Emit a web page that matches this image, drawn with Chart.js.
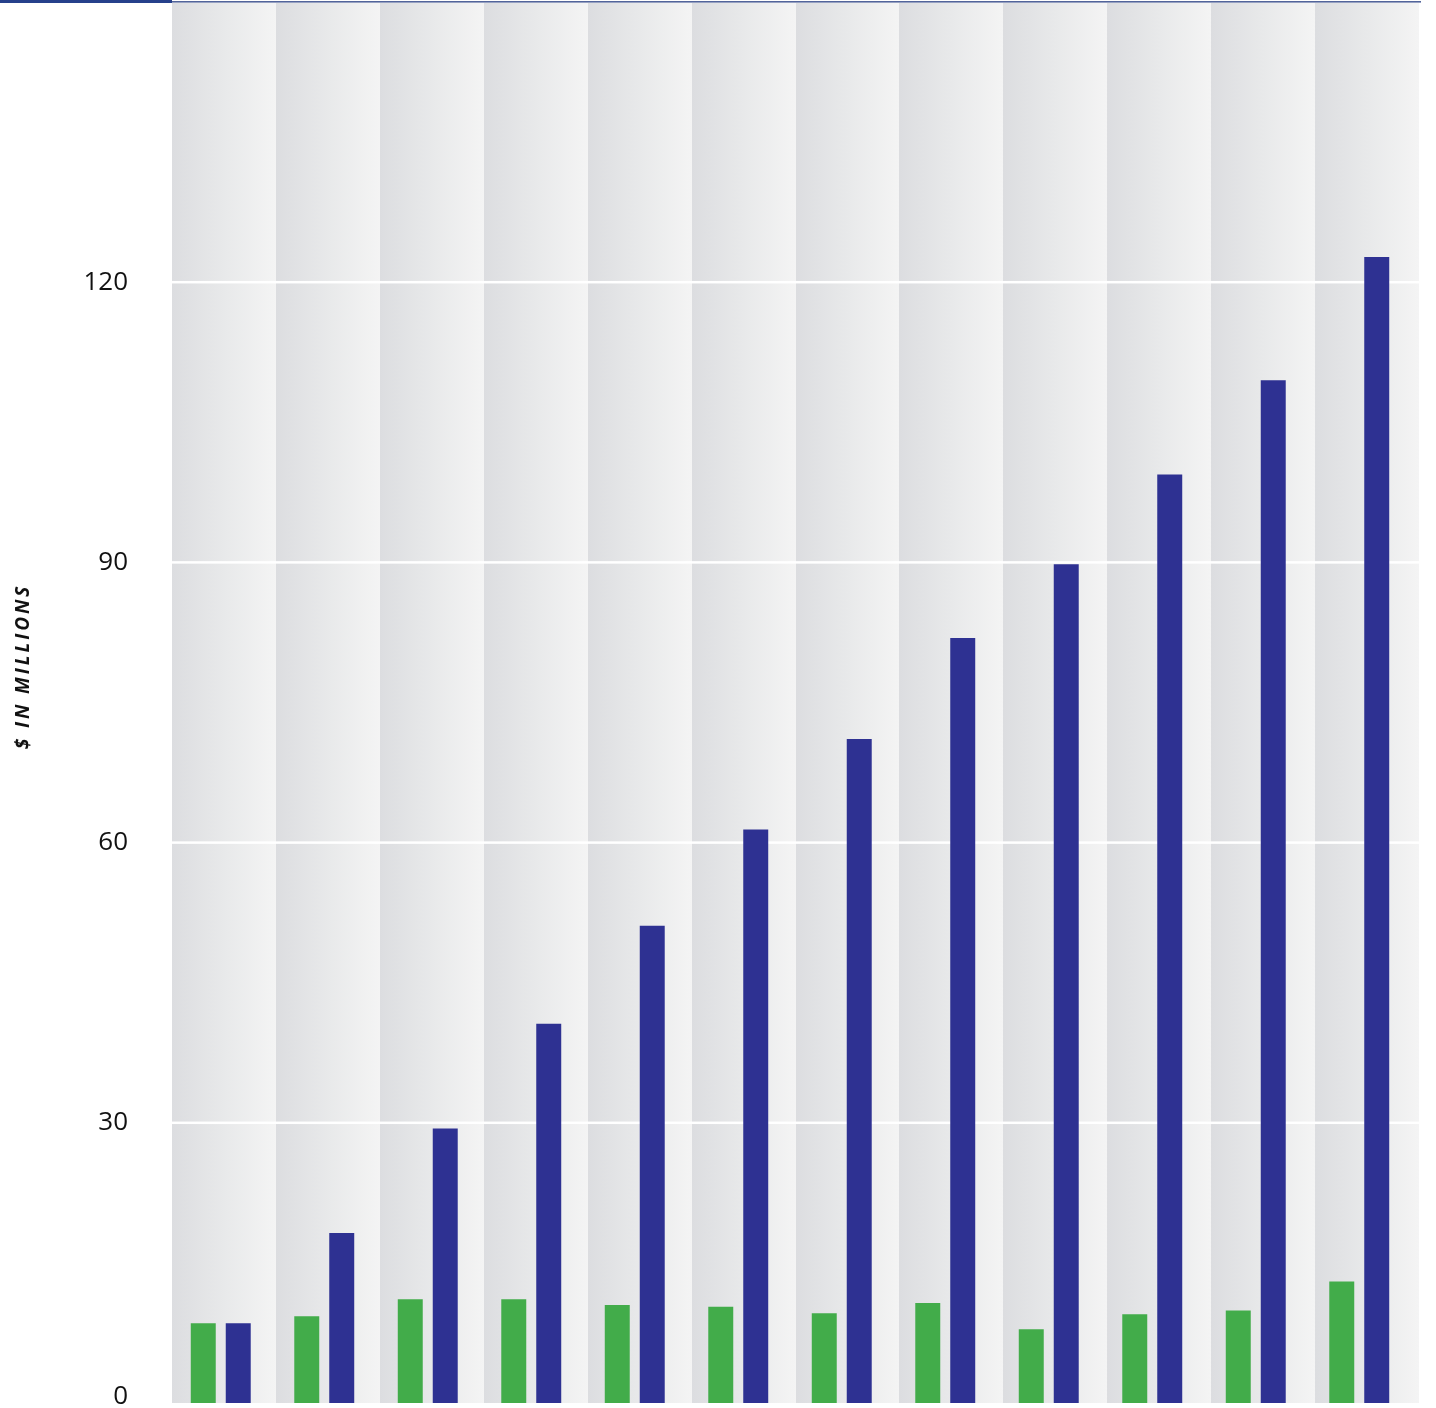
<!DOCTYPE html>
<html>
<head>
<meta charset="utf-8">
<title>$ in millions</title>
<script src="https://cdn.jsdelivr.net/npm/chart.js@4.4.1/dist/chart.umd.min.js"></script>
<style>
  html, body { margin: 0; padding: 0; background: #ffffff; }
  #wrap { width: 1436px; height: 1408px; }
</style>
</head>
<body>
<div id="wrap"><canvas id="chart" width="1436" height="1408"></canvas></div>
<script>
// Periods along the x axis (not labelled on the chart)
const periods = ['P1', 'P2', 'P3', 'P4', 'P5', 'P6', 'P7', 'P8', 'P9', 'P10', 'P11', 'P12'];

// Yearly amount, $ millions
const annualValues = [8.55, 9.3, 11.1, 11.1, 10.5, 10.3, 9.6, 10.7, 7.9, 9.5, 9.9, 13.0];

// Running total, $ millions
const cumulativeValues = [8.55, 18.2, 29.4, 40.6, 51.1, 61.4, 71.1, 81.9, 89.8, 99.4, 109.5, 122.7];

// Value axis ticks
const yTicks = [0, 30, 60, 90, 120, 150];

const axisTitle = '$ IN MILLIONS';

const GREEN = '#42ac4a';
const NAVY = '#2e3192';

// Panel extent: the shaded columns and gridlines sit slightly right of the bar groups
const PANEL_LEFT = 172;
const PANEL_RIGHT = 1419;

// Shaded column behind each period (dark on the left, fading right) plus white gridlines
const panel = {
  id: 'panel',
  beforeDatasetsDraw(chart) {
    const { ctx, chartArea: a, scales: { y } } = chart;
    const n = periods.length;
    const w = (PANEL_RIGHT - PANEL_LEFT) / n;
    ctx.save();
    for (let i = 0; i < n; i++) {
      const left = PANEL_LEFT + i * w;
      const right = left + w;
      const g = ctx.createLinearGradient(left, 0, right, 0);
      g.addColorStop(0, '#dcdde0');
      g.addColorStop(0.5, '#e8e9ea');
      g.addColorStop(1, '#f4f4f4');
      ctx.fillStyle = g;
      ctx.fillRect(Math.round(left), a.top + 1, Math.round(right) - Math.round(left), a.bottom - a.top - 1);
    }
    ctx.fillStyle = '#ffffff';
    yTicks.filter(v => v > yTicks[0] && v < yTicks[yTicks.length - 1]).forEach(v => {
      const py = y.getPixelForValue(v);
      ctx.fillRect(PANEL_LEFT, py - 1.25, PANEL_RIGHT - PANEL_LEFT, 2.5);
    });
    ctx.restore();
  },
  afterDraw(chart) {
    const { ctx, chartArea: a } = chart;
    ctx.save();
    // rule across the top
    ctx.fillStyle = '#26408b';
    ctx.fillRect(0, 0, PANEL_LEFT, 3);
    ctx.fillStyle = '#52649a';
    ctx.fillRect(PANEL_LEFT, 1, PANEL_RIGHT - PANEL_LEFT + 2, 1.6);

    // rotated axis title
    ctx.translate(24, (a.top + a.bottom) / 2 - 36);
    ctx.rotate(-Math.PI / 2);
    ctx.font = 'italic bold 19px "Open Sans"';
    ctx.letterSpacing = '2.9px';
    ctx.fillStyle = '#111111';
    ctx.textAlign = 'center';
    ctx.textBaseline = 'middle';
    ctx.fillText(axisTitle, 0, 0);
    ctx.restore();
  }
};

new Chart(document.getElementById('chart'), {
  type: 'bar',
  data: {
    labels: periods,
    datasets: [
      { label: 'Annual', data: annualValues, backgroundColor: GREEN },
      { label: 'Cumulative', data: cumulativeValues, backgroundColor: NAVY }
    ]
  },
  options: {
    responsive: false,
    devicePixelRatio: 1,
    animation: false,
    categoryPercentage: 0.676,
    barPercentage: 0.714,
    layout: { autoPadding: false, padding: { top: 2, right: 25, bottom: 5, left: 0 } },
    plugins: { legend: { display: false }, tooltip: { enabled: false } },
    scales: {
      x: {
        display: false,
        grid: { display: false }
      },
      y: {
        min: yTicks[0],
        max: yTicks[yTicks.length - 1],
        afterBuildTicks(scale) {
          scale.ticks = yTicks.map(v => ({ value: v }));
        },
        afterFit(scale) {
          scale.width = 169;
          scale.paddingTop = 0;
          scale.paddingBottom = 0;
        },
        border: { display: false },
        grid: { display: false, drawTicks: false },
        ticks: {
          padding: 41,
          color: '#111111',
          // the bottom label is nudged up so it stays inside the canvas
          font: ctx => (ctx.tick && ctx.tick.value === 0)
            ? { family: 'Open Sans', size: 26, lineHeight: '12px' }
            : { family: 'Open Sans', size: 26 },
          callback: v => v === 150 ? '' : (v === 0 ? ['0', ''] : String(v))
        }
      }
    }
  },
  plugins: [panel]
});
</script>
</body>
</html>
